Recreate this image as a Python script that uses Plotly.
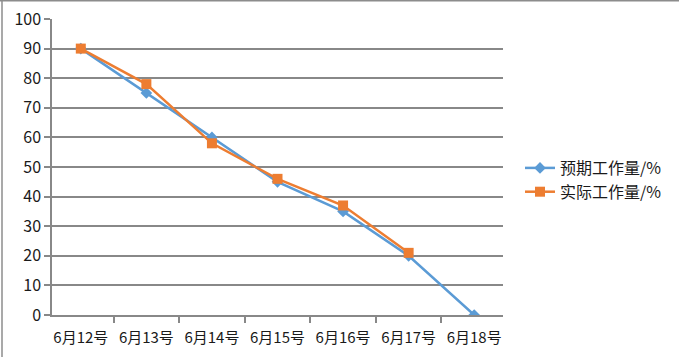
import plotly.graph_objects as go

categories = ["6月12号", "6月13号", "6月14号", "6月15号", "6月16号", "6月17号", "6月18号"]
planned_name = "预期工作量/%"
planned = [90, 75, 60, 45, 35, 20, 0]
actual_name = "实际工作量/%"
actual = [90, 78, 58, 46, 37, 21, None]

W, H = 679, 357
L, R, T, B = 52, 503, 19, 315

fig = go.Figure()
fig.add_trace(go.Scatter(
    x=categories, y=planned, name=planned_name, mode="lines+markers",
    line=dict(color="#5B9BD5", width=2.5),
    marker=dict(symbol="diamond", size=9, color="#5B9BD5"),
))
fig.add_trace(go.Scatter(
    x=categories, y=actual, name=actual_name, mode="lines+markers",
    line=dict(color="#ED7D31", width=2.5),
    marker=dict(symbol="square", size=10, color="#ED7D31"),
))

font_family = "Noto Sans CJK SC, Noto Sans, sans-serif"

def px_to_paper_x(px):
    return (px - L) / (R - L)

def px_to_paper_y(py):
    return (B - py) / (B - T)

fig.update_layout(
    width=W, height=H,
    margin=dict(l=L, r=W - R, t=T, b=H - B, autoexpand=False),
    paper_bgcolor="white", plot_bgcolor="white",
    font=dict(family=font_family, size=15, color="#1a1a1a"),
    showlegend=True,
    legend=dict(
        x=px_to_paper_x(520), y=px_to_paper_y(180),
        xanchor="left", yanchor="middle",
        font=dict(size=16, color="#1a1a1a"),
        bgcolor="rgba(0,0,0,0)", tracegroupgap=2,
    ),
    xaxis=dict(
        type="category", showgrid=False, showline=True,
        linecolor="#888888", linewidth=1.5,
        ticks="outside", tickson="boundaries", ticklen=6,
        tickcolor="#888888", tickwidth=1.5,
        tickfont=dict(size=15, color="#1a1a1a"),
        tickangle=0, automargin=False,
        ticklabelstandoff=8,
    ),
    yaxis=dict(
        range=[0, 100], dtick=10, showgrid=True,
        gridcolor="#888888", gridwidth=1.6,
        showline=True, linecolor="#888888", linewidth=1.5,
        ticks="outside", ticklen=6, tickcolor="#888888", tickwidth=1.5,
        tickfont=dict(size=16, color="#1a1a1a"),
        zeroline=False, automargin=False,
    ),
    shapes=[
        dict(type="line", xref="paper", yref="paper",
             x0=px_to_paper_x(0), x1=px_to_paper_x(W),
             y0=px_to_paper_y(0.8), y1=px_to_paper_y(0.8),
             line=dict(color="#8c8c8c", width=1.5)),
        dict(type="line", xref="paper", yref="paper",
             x0=px_to_paper_x(2), x1=px_to_paper_x(2),
             y0=px_to_paper_y(0), y1=px_to_paper_y(H),
             line=dict(color="#8c8c8c", width=1.5)),
    ],
)

fig.write_html("out.html")
